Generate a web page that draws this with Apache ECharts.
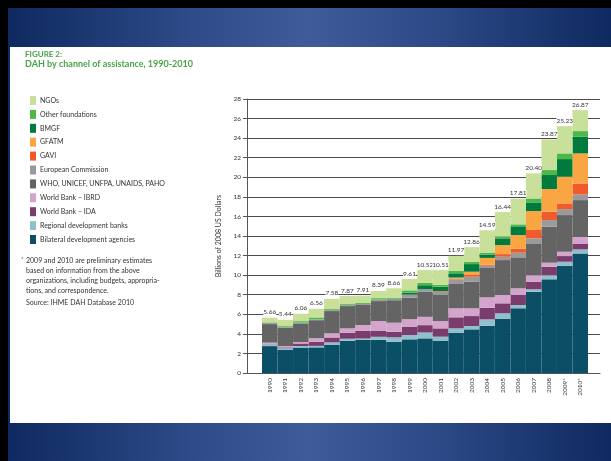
<!DOCTYPE html>
<html>
<head>
<meta charset="utf-8">
<script src="https://cdn.jsdelivr.net/npm/echarts@6/dist/echarts.min.js"></script>
<style>
html,body{margin:0;padding:0;width:611px;height:461px;overflow:hidden;background:#000;}
#blue{position:absolute;left:8px;top:8px;width:603px;height:453px;
  background:linear-gradient(to right,#0f2a60 0%,#2e4a88 30%,#3f5b9a 50%,#2e4a88 70%,#0f2a60 100%);}
#panel{position:absolute;left:10px;top:47px;width:601px;height:376px;background:#fff;}
#chart{position:absolute;left:0;top:0;width:611px;height:461px;}
</style>
</head>
<body>
<div id="blue"></div>
<div id="panel"></div>
<div id="chart"></div>
<script>
// ---- Data (billions of 2008 US dollars), bottom of stack to top ----
const years = ['1990','1991','1992','1993','1994','1995','1996','1997','1998','1999','2000','2001','2002','2003','2004','2005','2006','2007','2008','2009*','2010*'];
const totals = ['5.66','5.44','6.06','6.56','7.58','7.87','7.91','8.39','8.66','9.61','10.52','10.51','11.97','12.86','14.59','16.44','17.81','20.40','23.87','25.23','26.87'];

const bilateral = [2.75,2.35,2.60,2.62,2.86,3.30,3.37,3.40,3.20,3.44,3.54,3.27,4.12,4.46,4.83,5.52,6.61,8.31,9.57,10.93,12.22];
const regional  = [0.20,0.17,0.15,0.15,0.27,0.20,0.15,0.30,0.44,0.44,0.60,0.44,0.44,0.34,0.65,0.58,0.34,0.24,0.43,0.44,0.41];
const ida       = [0.05,0.10,0.27,0.43,0.50,0.62,0.80,0.63,0.58,0.82,0.75,0.85,1.13,1.02,1.19,1.02,1.02,0.78,0.86,0.58,0.55];
const ibrd      = [0.10,0.14,0.15,0.35,0.42,0.44,0.58,0.98,0.92,0.80,0.85,0.75,0.92,0.79,1.06,0.85,0.68,0.67,0.41,0.44,0.74];
const who       = [1.90,1.85,1.90,1.85,2.28,2.28,2.05,2.04,2.30,2.20,2.55,2.66,2.55,2.72,3.00,3.57,3.17,3.25,3.68,3.75,3.75];
const ec        = [0.10,0.08,0.08,0.08,0.10,0.10,0.10,0.15,0.14,0.35,0.28,0.33,0.41,0.51,0.23,0.34,0.47,0.51,0.68,0.61,0.58];
const gavi      = [0,0,0,0,0,0,0,0,0,0,0,0.07,0.08,0.16,0.10,0.27,0.40,0.85,0.85,0.58,1.12];
const gfatm     = [0,0,0,0,0,0,0,0,0,0,0,0,0.10,0.35,0.70,0.92,1.40,1.94,2.32,2.72,3.07];
const bmgf      = [0,0,0,0,0,0,0,0,0,0.15,0.40,0.45,0.44,0.78,0.35,0.69,0.90,0.88,1.43,1.81,1.70];
const otherFnd  = [0.07,0.10,0.15,0.20,0.10,0.10,0.10,0.15,0.12,0.25,0.25,0.17,0.24,0.24,0.20,0.17,0.20,0.41,0.51,0.58,0.58];
const ngos      = [0.49,0.65,0.76,0.88,1.05,0.83,0.76,0.74,0.96,1.16,1.30,1.52,1.54,1.49,2.28,2.51,2.62,2.56,3.13,2.79,2.15];

const yTicks = [0, 28, 2];

const seriesDefs = [
  ['Bilateral development agencies', bilateral, '#0b4f66'],
  ['Regional development banks', regional, '#8fc0cb'],
  ['World Bank – IDA', ida, '#7a3b6d'],
  ['World Bank – IBRD', ibrd, '#d3a5cc'],
  ['WHO, UNICEF, UNFPA, UNAIDS, PAHO', who, '#646464'],
  ['European Commission', ec, '#9a9a9a'],
  ['GAVI', gavi, '#f15a2b'],
  ['GFATM', gfatm, '#f9a541'],
  ['BMGF', bmgf, '#007a3d'],
  ['Other foundations', otherFnd, '#4db848'],
  ['NGOs', ngos, '#c8e09a']
];

const FONT = 'Lato, "Open Sans", sans-serif';
const series = seriesDefs.map(function(d, i){
  const s = {
    name: d[0], type: 'bar', stack: 'total', data: d[1],
    xAxisIndex: 1, yAxisIndex: 1,
    barCategoryGap: '0%', barGap: '0%',
    itemStyle: {color: d[2]},
    emphasis: {disabled: true},
    animation: false
  };
  if (i === seriesDefs.length - 1) {
    s.label = {
      show: true, position: 'top', distance: 2,
      formatter: function(p){ return totals[p.dataIndex]; },
      fontSize: 6.5, fontFamily: FONT, color: '#333',
      backgroundColor: '#fff', padding: 0
    };
  }
  return s;
});

const chart = echarts.init(document.getElementById('chart'), null, {renderer: 'canvas'});
const txt = function(x, y, text, font, fill){
  return {type: 'text', left: x, top: y, silent: true,
    style: {text: text, font: font, fill: fill || '#333'}};
};
chart.setOption({
  animation: false,
  textStyle: {fontFamily: FONT},
  grid: [
    {left: 247, top: 99, width: 353, height: 274},
    {left: 262, top: 99, width: 326, height: 274}
  ],
  xAxis: [
    {gridIndex: 0, type: 'value', min: 0, max: 1,
      axisLine: {show: true, lineStyle: {color: '#555', width: 1}},
      axisTick: {show: false}, axisLabel: {show: false}, splitLine: {show: false}},
    {gridIndex: 1, type: 'category', data: years,
      axisLine: {show: false}, axisTick: {show: false},
      axisLabel: {rotate: 90, fontSize: 6.5, fontFamily: FONT, color: '#333', margin: 5, interval: 0}}
  ],
  yAxis: [
    {gridIndex: 0, type: 'value', min: yTicks[0], max: yTicks[1], interval: yTicks[2],
      name: 'Billions of 2008 US Dollars', nameLocation: 'middle', nameGap: 20,
      nameTextStyle: {fontSize: 7, fontFamily: FONT, color: '#333'},
      axisLine: {show: true, lineStyle: {color: '#555', width: 1}},
      axisTick: {show: true, length: 4, lineStyle: {color: '#555'}},
      axisLabel: {fontSize: 6.5, fontFamily: FONT, color: '#333', margin: 6},
      splitLine: {show: true, lineStyle: {color: '#4a4a4a', width: 1}}},
    {gridIndex: 1, type: 'value', min: yTicks[0], max: yTicks[1], show: false}
  ],
  legend: {
    orient: 'vertical', left: 25, top: 91,
    itemWidth: 6, itemHeight: 9, itemGap: 4.9, icon: 'rect',
    selectedMode: false,
    data: seriesDefs.map(function(d){ return d[0]; }).reverse(),
    textStyle: {fontSize: 7, fontFamily: FONT, color: '#333', lineHeight: 9, padding: [0,0,0,-1]}
  },
  graphic: [
    txt(25, 50, 'FIGURE 2:', 'bold 8px ' + FONT, '#4aa347'),
    txt(25, 60, 'DAH by channel of assistance, 1990-2010', 'bold 9px ' + FONT, '#4aa347'),
    txt(21, 256, '*', '6px ' + FONT),
    txt(26, 257.5, '2009 and 2010 are preliminary estimates', '7px ' + FONT),
    txt(26, 267.5, 'based on information from the above', '7px ' + FONT),
    txt(26, 277.5, 'organizations, including budgets, appropria-', '7px ' + FONT),
    txt(26, 287.5, 'tions, and correspondence.', '7px ' + FONT),
    txt(26, 299.5, 'Source: IHME DAH Database 2010', '7px ' + FONT)
  ],
  series: series
});
</script>
</body>
</html>
